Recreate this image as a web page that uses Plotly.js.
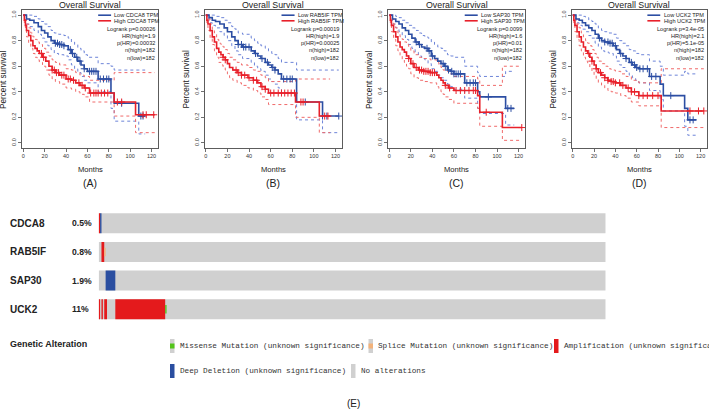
<!DOCTYPE html>
<html><head><meta charset="utf-8">
<script src="https://cdn.plot.ly/plotly-3.0.1.min.js"></script>
<style>html,body{margin:0;padding:0;background:#fff}#chart{width:709px;height:416px}</style>
</head><body><div id="chart"></div>
<script>
// ---------- Kaplan-Meier data (months, survival, CI upper, CI lower, censor times) ----------
const cdca8LowT  = [0,3,6,10,14,17,20,23,26,29,33,38,42,45,48,51,54,57,60,70,82,85,108,114];
const cdca8LowS  = [1,.97,.96,.94,.91,.88,.86,.83,.80,.78,.77,.76,.73,.70,.67,.64,.61,.58,.56,.50,.39,.31,.21,.21];
const cdca8LowUp = [1,1,1,.99,.97,.95,.93,.91,.88,.86,.85,.84,.82,.79,.77,.74,.72,.69,.67,.62,.60,.57,.57,.57];
const cdca8LowLo = [1,.93,.91,.88,.85,.82,.79,.76,.73,.70,.69,.68,.65,.61,.58,.55,.52,.49,.47,.40,.27,.17,.07,.07];
const cdca8LowC  = [30,32,34,36,38,44,46,50,53,57,62,64,66,68,72,75,78,80,92,110,112];
const cdca8HighT  = [0,1,2,3,5,7,9,11,13,15,18,21,24,27,30,34,40,45,49,53,57,62,85,105,123];
const cdca8HighS  = [1,.96,.92,.88,.84,.80,.76,.74,.72,.70,.67,.64,.60,.57,.55,.53,.50,.49,.47,.45,.43,.39,.32,.22,.22];
const cdca8HighUp = [1,.99,.96,.93,.90,.86,.83,.81,.79,.77,.74,.71,.68,.65,.63,.61,.58,.57,.55,.53,.52,.49,.55,.55,.55];
const cdca8HighLo = [1,.93,.88,.83,.78,.74,.70,.67,.65,.63,.60,.57,.53,.50,.48,.46,.43,.42,.40,.38,.36,.32,.21,.08,.08];
const cdca8HighC  = [17,19,27,29,31,33,36,38,42,44,47,52,55,58,63,66,68,70,73,76,79,88,92,112,115,122];

const rab5ifLowT  = [0,3,6,9,13,17,20,24,27,30,34,42,45,48,51,55,58,61,64,67,70,84,108,123];
const rab5ifLowS  = [1,.98,.96,.95,.93,.90,.87,.83,.80,.77,.75,.72,.70,.68,.66,.63,.61,.59,.57,.54,.50,.32,.21,.21];
const rab5ifLowUp = [1,1,1,.99,.98,.96,.94,.91,.89,.86,.85,.82,.80,.78,.76,.74,.72,.70,.69,.66,.63,.57,.57,.57];
const rab5ifLowLo = [1,.94,.92,.90,.87,.84,.80,.76,.72,.69,.66,.63,.60,.58,.56,.53,.50,.48,.46,.43,.39,.18,.08,.08];
const rab5ifLowC  = [30,33,35,37,40,46,52,57,62,64,72,75,78,80,92,108,112,123];
const rab5ifHighT  = [0,1,2,4,6,8,10,12,14,16,18,20,22,25,29,33,39,44,48,51,55,58,83,105,115];
const rab5ifHighS  = [1,.96,.93,.88,.83,.79,.74,.71,.69,.67,.65,.62,.59,.57,.55,.53,.51,.49,.47,.44,.42,.39,.32,.21,.21];
const rab5ifHighUp = [1,.99,.97,.93,.89,.86,.81,.78,.77,.75,.73,.70,.67,.65,.63,.61,.59,.57,.56,.53,.51,.48,.50,.50,.50];
const rab5ifHighLo = [1,.93,.88,.82,.77,.72,.67,.63,.61,.59,.57,.54,.51,.49,.47,.45,.43,.41,.39,.36,.34,.30,.20,.08,.08];
const rab5ifHighC  = [16,18,28,30,33,36,40,44,47,52,55,60,63,67,70,73,76,79,82,88,90,110,113];

const sap30LowT  = [0,3,6,9,12,15,18,21,24,27,30,33,36,39,42,45,48,51,54,57,60,70,82,84,108,116];
const sap30LowS  = [1,.97,.95,.93,.90,.88,.85,.82,.79,.77,.75,.74,.72,.68,.66,.64,.62,.60,.57,.56,.54,.47,.40,.36,.27,.27];
const sap30LowUp = [1,1,.99,.98,.96,.94,.92,.90,.88,.86,.84,.83,.82,.79,.77,.75,.74,.72,.69,.68,.67,.60,.55,.52,.56,.56];
const sap30LowLo = [1,.93,.90,.87,.84,.81,.77,.74,.71,.68,.66,.65,.62,.58,.56,.53,.51,.49,.46,.44,.42,.35,.27,.23,.14,.14];
const sap30LowC  = [25,28,35,37,40,50,52,55,58,60,62,64,66,72,75,78,80,92,110,113];
const sap30HighT  = [0,1,2,4,6,8,10,12,14,16,18,20,23,27,32,38,44,46,48,50,52,55,60,82,84,105,123];
const sap30HighS  = [1,.96,.92,.87,.83,.79,.75,.73,.71,.68,.66,.62,.59,.57,.56,.55,.53,.51,.49,.47,.45,.43,.41,.37,.24,.12,.12];
const sap30HighUp = [1,.99,.97,.93,.90,.86,.83,.81,.79,.77,.75,.72,.69,.67,.66,.65,.63,.61,.59,.57,.56,.54,.52,.50,.45,.60,.60];
const sap30HighLo = [1,.92,.87,.81,.76,.72,.68,.65,.63,.60,.58,.54,.51,.49,.48,.47,.44,.42,.40,.38,.36,.34,.31,.27,.13,.02,.02];
const sap30HighC  = [18,22,25,28,30,32,34,36,38,40,42,52,56,62,66,70,74,78,80,90,123];

const uck2LowT  = [0,3,6,9,12,15,18,21,24,27,30,34,38,41,44,47,50,53,56,59,62,72,82,85,105,108,116];
const uck2LowS  = [1,.97,.96,.94,.92,.90,.88,.85,.82,.80,.79,.78,.76,.73,.70,.68,.66,.63,.61,.59,.58,.52,.46,.37,.27,.18,.18];
const uck2LowUp = [1,1,1,.99,.98,.96,.95,.93,.90,.88,.87,.86,.85,.82,.80,.78,.76,.73,.72,.70,.69,.64,.60,.53,.56,.54,.54];
const uck2LowLo = [1,.94,.92,.89,.87,.84,.82,.78,.75,.72,.71,.70,.68,.64,.61,.59,.56,.53,.51,.49,.47,.41,.34,.25,.13,.06,.06];
const uck2LowC  = [25,30,33,35,37,40,45,50,55,58,60,63,66,70,74,78,92,110,113];
const uck2HighT  = [0,1,2,4,6,8,10,12,14,16,18,20,22,24,27,30,33,36,40,45,50,55,62,83,123];
const uck2HighS  = [1,.96,.92,.87,.83,.79,.75,.72,.70,.67,.64,.61,.58,.55,.53,.51,.49,.48,.47,.45,.43,.40,.37,.25,.25];
const uck2HighUp = [1,.99,.97,.93,.90,.86,.83,.80,.78,.76,.73,.70,.67,.64,.62,.60,.58,.57,.56,.54,.52,.49,.47,.58,.58];
const uck2HighLo = [1,.92,.87,.81,.76,.72,.67,.64,.62,.59,.56,.53,.50,.47,.45,.43,.41,.40,.39,.37,.35,.32,.29,.12,.12];
const uck2HighC  = [15,18,22,26,30,33,36,38,40,44,47,52,55,58,62,66,70,75,80,110,118,123];

const kmGenes = ['CDCA8','RAB5IF','SAP30','UCK2'];
const logrankP = ['0.00026','0.00019','0.0099','3.4e-05'];
const hrHigh = ['1.9','1.9','1.6','2.1'];
const pHR = ['0.00032','0.00025','0.01','5.1e-05'];
const nHigh = [182,182,182,182];
const nLow = [182,182,182,182];
const panelLabels = ['(A)','(B)','(C)','(D)'];
const monthTicks = [0,20,40,60,80,100,120];
const survTicks = [0,0.2,0.4,0.6,0.8,1.0];

// ---------- Oncoprint data ----------
const oncoGenes = ['CDCA8','RAB5IF','SAP30','UCK2'];
const oncoPct = ['0.5%','0.8%','1.9%','11%'];
const nSamples = 366;
const ampGene = [0,1,3,3,3,3];   const ampStart = [0,2,0,2,4,12];  const ampLen = [1,2,1,1,2,36];
const delGene = [0,2];           const delStart = [1,5];           const delLen = [1,7];
const spliceGene = [1];          const spliceStart = [4];          const spliceLen = [1];
const missGene = [3];            const missStart = [48];           const missLen = [1];
const legendLabels = ['Missense Mutation (unknown significance)','Splice Mutation (unknown significance)','Amplification (unknown significance)','Deep Deletion (unknown significance)','No alterations'];

// ---------- styling ----------
const BLUE = '#2c4ea3', RED = '#e8202a', BLUE_CI = '#6d84d8', RED_CI = '#f06a6a';
const GREY = '#d0d0d0', C_AMP = '#e41a1c', C_DEL = '#2a4ea0', C_MISS = '#53c41a', C_SPL = '#f3b27a';
const W = 709, H = 416;
const boxes = [[22,158],[204.5,342],[388,525],[571.5,707]];
const boxTop = 10, boxBot = 148;
const px = x => x / W, py = y => 1 - y / H;

const curves = [
  {low:[cdca8LowT,cdca8LowS,cdca8LowUp,cdca8LowLo,cdca8LowC], high:[cdca8HighT,cdca8HighS,cdca8HighUp,cdca8HighLo,cdca8HighC]},
  {low:[rab5ifLowT,rab5ifLowS,rab5ifLowUp,rab5ifLowLo,rab5ifLowC], high:[rab5ifHighT,rab5ifHighS,rab5ifHighUp,rab5ifHighLo,rab5ifHighC]},
  {low:[sap30LowT,sap30LowS,sap30LowUp,sap30LowLo,sap30LowC], high:[sap30HighT,sap30HighS,sap30HighUp,sap30HighLo,sap30HighC]},
  {low:[uck2LowT,uck2LowS,uck2LowUp,uck2LowLo,uck2LowC], high:[uck2HighT,uck2HighS,uck2HighUp,uck2HighLo,uck2HighC]}
];

function survAt(T, S, t){ let v = S[0]; for (let i=0;i<T.length;i++){ if (T[i] <= t) v = S[i]; } return v; }

const traces = [];
const layout = {
  width: W, height: H, margin: {l:0,r:0,t:0,b:0}, showlegend: false,
  paper_bgcolor: '#fff', plot_bgcolor: 'rgba(0,0,0,0)',
  font: {family: 'Liberation Sans, Arial, sans-serif', color: '#222'},
  barmode: 'overlay', annotations: [], shapes: []
};
const F = 'Liberation Sans, Arial, sans-serif';

curves.forEach((c, i) => {
  const xa = 'x' + (i+1), ya = 'y' + (i+1);
  const xk = 'xaxis' + (i===0?'':i+1), yk = 'yaxis' + (i===0?'':i+1);
  [['low',BLUE,BLUE_CI],['high',RED,RED_CI]].forEach(([k,col,ci]) => {
    const [T,S,Up,Lo] = c[k];
    [Up,Lo].forEach(arr => traces.push({type:'scatter', mode:'lines', x:T, y:arr, xaxis:xa, yaxis:ya,
      line:{shape:'hv', color:ci, width:1, dash:'dot'}, hoverinfo:'skip'}));
  });
  [['low',BLUE],['high',RED]].forEach(([k,col]) => {
    const [T,S,Up,Lo,C] = c[k];
    traces.push({type:'scatter', mode:'lines', x:T, y:S, xaxis:xa, yaxis:ya, line:{shape:'hv', color:col, width:1.6}});
    traces.push({type:'scatter', mode:'markers', x:C, y:C.map(t => survAt(T,S,t)), xaxis:xa, yaxis:ya,
      marker:{symbol:'cross-thin', size:5, line:{color:col, width:1}}});
  });
  const b = boxes[i];
  layout[xk] = {domain:[px(b[0]), px(b[1])], range:[-1.2,126], anchor:ya, tickvals:monthTicks,
    showline:true, mirror:true, linecolor:'#333', linewidth:0.8, ticks:'outside', ticklen:3, tickwidth:0.7, tickcolor:'#333',
    tickfont:{size:5.5, family:F, color:'#333'}, showgrid:false, zeroline:false, fixedrange:true};
  layout[yk] = {domain:[py(boxBot), py(boxTop)], range:[-0.04,1.04], anchor:xa, tickvals:survTicks,
    ticktext:survTicks.map(v => v.toFixed(1)), tickangle:-90,
    showline:true, mirror:true, linecolor:'#333', linewidth:0.8, ticks:'outside', ticklen:3, tickwidth:0.7, tickcolor:'#333',
    tickfont:{size:5.5, family:F, color:'#333'}, showgrid:false, zeroline:false, fixedrange:true};
  const cx = px((b[0]+b[1])/2);
  const A = layout.annotations;
  A.push({text:'Overall Survival', xref:'paper', yref:'paper', x:cx, y:py(5), xanchor:'center', yanchor:'middle', showarrow:false, font:{size:8.8, family:F, color:'#222'}});
  A.push({text:'Percent survival', xref:'paper', yref:'paper', x:px(b[0]-19), y:py(80), textangle:-90, xanchor:'center', yanchor:'middle', showarrow:false, font:{size:8.2, family:F, color:'#222'}});
  A.push({text:'Months', xref:'paper', yref:'paper', x:cx, y:py(169.5), xanchor:'center', yanchor:'middle', showarrow:false, font:{size:7.6, family:F, color:'#222'}});
  A.push({text:panelLabels[i], xref:'paper', yref:'paper', x:cx, y:py(183.5), xanchor:'center', yanchor:'middle', showarrow:false, font:{size:10.5, family:F, color:'#222'}});
  // legend inside
  const dx = xa + ' domain', dy = ya + ' domain';
  const bh = boxBot - boxTop;
  const rowY = o => 1 - o / bh;
  [[BLUE,'Low '+kmGenes[i]+' TPM',5.2],[RED,'High '+kmGenes[i]+' TPM',10.8]].forEach(([col,txt,o]) => {
    layout.shapes.push({type:'line', xref:dx, yref:dy, x0:0.56, x1:0.655, y0:rowY(o), y1:rowY(o), line:{color:col, width:1.6}});
    A.push({text:txt, xref:dx, yref:dy, x:0.665, y:rowY(o), xanchor:'left', yanchor:'middle', showarrow:false, font:{size:5.6, family:F, color:'#222'}});
  });
  const stats = ['Logrank p='+logrankP[i], 'HR(high)='+hrHigh[i], 'p(HR)='+pHR[i], 'n(high)='+nHigh[i], 'n(low)='+nLow[i]];
  stats.forEach((s,j) => A.push({text:s, xref:dx, yref:dy, x:0.99, y:rowY(18.5 + j*7.3), xanchor:'right', yanchor:'middle', showarrow:false, font:{size:5.6, family:F, color:'#222'}}));
});

// ---------- Oncoprint ----------
const oTop = 209, oBot = 323.5;
layout.xaxis5 = {domain:[px(98.7), px(605.7)], range:[0,nSamples], anchor:'y5', visible:false, fixedrange:true};
layout.yaxis5 = {domain:[py(oBot), py(oTop)], range:[3.5,-0.5], anchor:'x5', visible:false, fixedrange:true};
function barTrace(g, s, l, col, w){
  return {type:'bar', orientation:'h', y:g, base:s, x:l, xaxis:'x5', yaxis:'y5', width:g.map(()=>w),
    marker:{color:col, line:{width:0}}, hoverinfo:'skip'};
}
traces.push(barTrace(oncoGenes.map((_,i)=>i), oncoGenes.map(()=>0), oncoGenes.map(()=>nSamples), GREY, 0.7));
traces.push(barTrace(ampGene, ampStart, ampLen, C_AMP, 0.7));
traces.push(barTrace(delGene, delStart, delLen, C_DEL, 0.7));
traces.push(barTrace(spliceGene, spliceStart, spliceLen, C_SPL, 0.3));
traces.push(barTrace(missGene, missStart, missLen, C_MISS, 0.3));
oncoGenes.forEach((g,i) => {
  layout.annotations.push({text:'<b>'+g+'</b>', xref:'paper', yref:'y5', x:px(8), y:i, xanchor:'left', yanchor:'middle', showarrow:false, font:{size:10, family:F, color:'#222'}});
  layout.annotations.push({text:'<b>'+oncoPct[i]+'</b>', xref:'paper', yref:'y5', x:px(70), y:i, xanchor:'left', yanchor:'middle', showarrow:false, font:{size:8.6, family:F, color:'#222'}});
});
layout.annotations.push({text:'<b>Genetic Alteration</b>', xref:'paper', yref:'paper', x:px(8), y:py(344), xanchor:'left', yanchor:'middle', showarrow:false, font:{size:9, family:F, color:'#222'}});

// legend items: [x of swatch, row y, background, inner colour or null]
const legPos = [[170,346,GREY,C_MISS],[368.5,346,GREY,C_SPL],[554,346,C_AMP,null],[170,371,C_DEL,null],[351,371,GREY,null]];
legPos.forEach(([x,y,bg,inner],k) => {
  layout.shapes.push({type:'rect', xref:'paper', yref:'paper', x0:px(x), x1:px(x+4.5), y0:py(y+7), y1:py(y-7), fillcolor:bg, line:{width:0}});
  if (inner) layout.shapes.push({type:'rect', xref:'paper', yref:'paper', x0:px(x), x1:px(x+4.5), y0:py(y+2.5), y1:py(y-2.5), fillcolor:inner, line:{width:0}});
  layout.annotations.push({text:legendLabels[k], xref:'paper', yref:'paper', x:px(x+7.5), y:py(y), xanchor:'left', yanchor:'middle', showarrow:false, font:{size:7.7, family:'Liberation Mono, monospace', color:'#333'}});
});
layout.annotations.push({text:'(E)', xref:'paper', yref:'paper', x:px(353), y:py(403.5), xanchor:'center', yanchor:'middle', showarrow:false, font:{size:10, family:F, color:'#222'}});

Plotly.newPlot('chart', traces, layout, {staticPlot:true, displayModeBar:false});
</script></body></html>
